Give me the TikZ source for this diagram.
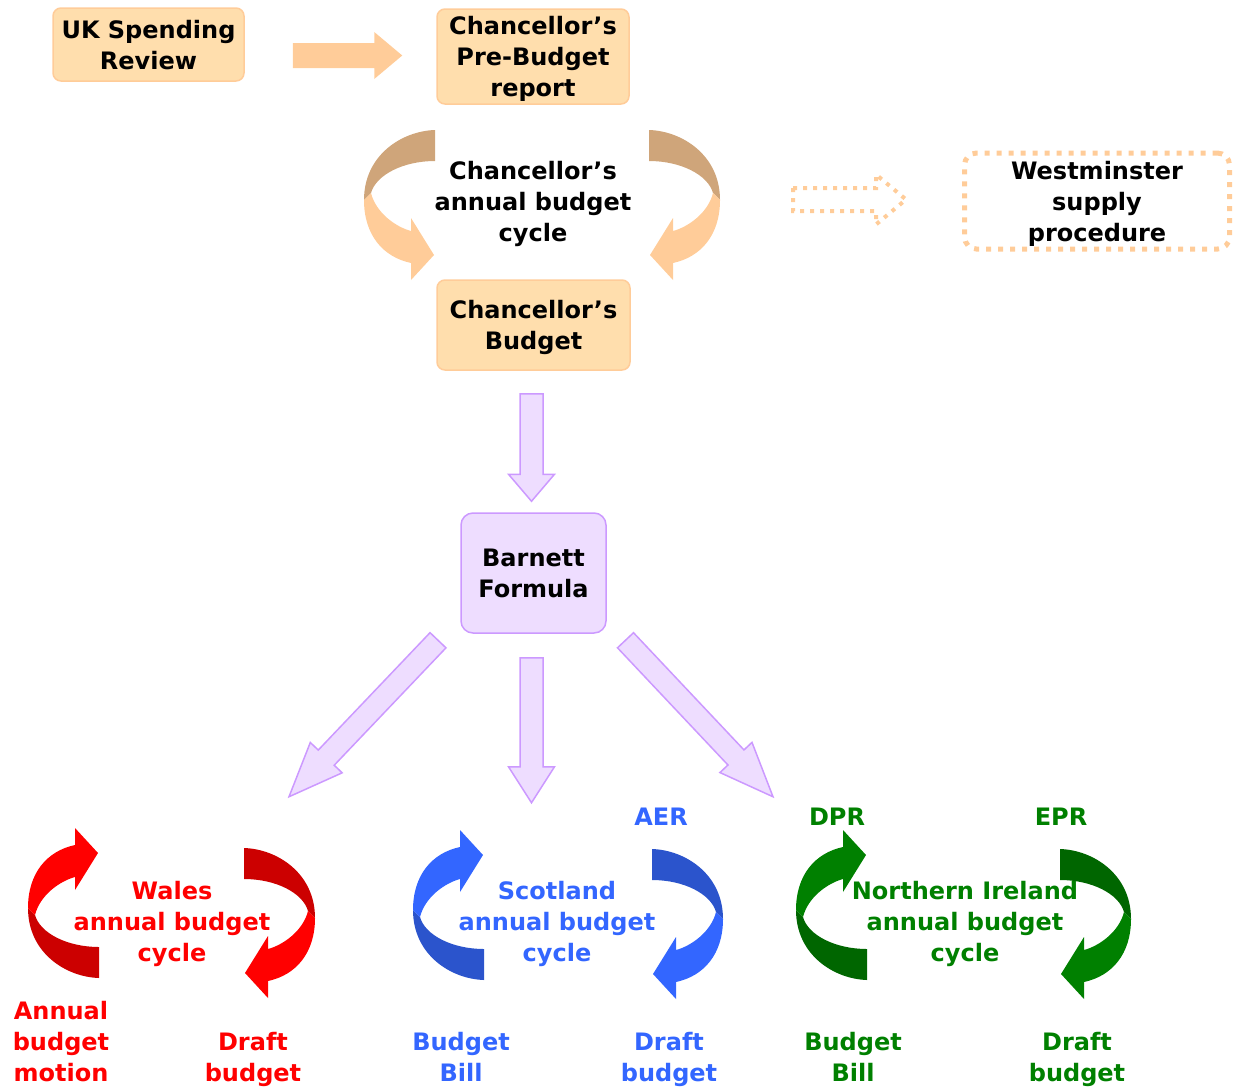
\documentclass[tikz,border=0pt]{standalone}
\usepackage{fontspec}
\setmainfont{DejaVu Sans}
\usetikzlibrary{calc}

\definecolor{peach}{HTML}{FFCC99}
\definecolor{peachfill}{HTML}{FFDEAD}
\definecolor{cyclebrown}{HTML}{CFA57A}
\definecolor{lilac}{HTML}{CC99FF}
\definecolor{lilacfill}{HTML}{EEDDFF}
\definecolor{walesred}{HTML}{FF0000}
\definecolor{walesdark}{HTML}{CC0000}
\definecolor{scotblue}{HTML}{3366FF}
\definecolor{scotdark}{HTML}{2B54CC}
\definecolor{nigreen}{HTML}{008000}
\definecolor{nidark}{HTML}{006600}

\tikzstyle{lbl}=[font=\fontsize{24}{31}\selectfont\bfseries,align=center,inner sep=0pt,text depth=0pt]
\tikzstyle{ukbox}=[lbl,draw=peach,fill=peachfill,line width=1.5pt,rounded corners=8pt]
\tikzstyle{barnettbox}=[lbl,draw=lilac,fill=lilacfill,line width=1.5pt,rounded corners=12pt]
\tikzstyle{dotbox}=[lbl,draw=peach,line width=5pt,dash pattern=on 5pt off 7pt,rounded corners=12pt]
\tikzstyle{fatarrow}=[fill=peach]
\tikzstyle{lilacarrow}=[draw=lilac,fill=lilacfill,line width=1.5pt,line join=miter]
\tikzstyle{dotarrow}=[draw=peach,line width=4pt,dash pattern=on 4pt off 6pt]

% block arrow: style, from, to, shaft half width, head half width, head length
\newcommand{\blockarrow}[6]{%
  \coordinate (ba-h) at ($(#3)!#6!(#2)$);
  \path[#1] ($(#2)!#4!90:(#3)$) -- ($(ba-h)!#4!90:(#3)$) -- ($(ba-h)!#5!90:(#3)$) -- (#3)
    -- ($(ba-h)!#5!-90:(#3)$) -- ($(ba-h)!#4!-90:(#3)$) -- ($(#2)!#4!-90:(#3)$) -- cycle;}

% curved ribbon arrow: front colour, back colour
\tikzset{
  pics/cyclearrow/.style 2 args={code={
    \fill[#2] (-144,-5) .. controls (-144,40) and (-106,64) .. (-73,65) -- (-73,34)
      .. controls (-105,34) and (-132,20) .. (-137,2) -- cycle;
    \fill[#1] (-144,-5) .. controls (-144,-40) and (-125,-62) .. (-97,-68) -- (-97,-85)
      -- (-74,-60) -- (-97,-23) -- (-97,-36) .. controls (-112,-32) and (-132,-18) .. (-137,2) -- cycle;
  }}
}

\begin{document}
\begin{tikzpicture}[x=1pt,y=-1pt]
\useasboundingbox (0,0) rectangle (1239,1090);
% Westminster level
\node[ukbox,minimum width=191pt,minimum height=73pt] (ukrev) at (148.5,44.5) {UK Spending\\Review};
\node[ukbox,minimum width=192pt,minimum height=95pt] (prebud) at (533,56.5) {Chancellor’s\\Pre-Budget\\report};
\node[lbl] (ccycle) at (533,201) {Chancellor’s\\annual budget\\cycle};
\node[ukbox,minimum width=193pt,minimum height=90pt] (cbud) at (533.5,325) {Chancellor’s\\Budget};
\node[dotbox,minimum width=265pt,minimum height=96pt] (westm) at (1097,201) {Westminster\\supply\\procedure};
\coordinate (ua) at ($(ukrev.east)+(48,11)$);
\coordinate (ub) at ($(prebud.west)+(-34,-1)$);
\blockarrow{fatarrow}{ua}{ub}{12.5pt}{23.5pt}{28pt}
\coordinate (wa) at ($(westm.west)+(-169,-1.5)$);
\coordinate (wb) at ($(westm.west)+(-56,-1.5)$);
\blockarrow{dotarrow}{wa}{wb}{11.5pt}{25pt}{30pt}
\pic[yscale=-1] at (508,195) {cyclearrow={peach}{cyclebrown}};
\pic[xscale=-1,yscale=-1] at (576,195) {cyclearrow={peach}{cyclebrown}};
% Barnett
\node[barnettbox,minimum width=145pt,minimum height=120pt] (barnett) at (533.5,573) {Barnett\\Formula};
\coordinate (ba1) at ($(cbud.south)+(-2,23)$);
\coordinate (bb1) at ($(barnett.north)+(-2,-11)$);
\blockarrow{lilacarrow}{ba1}{bb1}{11.5pt}{23pt}{27pt}
\coordinate (ba2) at ($(barnett.south)+(-2,24)$);
\coordinate (bb2) at ($(barnett.south)+(-2,169)$);
\blockarrow{lilacarrow}{ba2}{bb2}{11.5pt}{23pt}{36pt}
\coordinate (ba3) at ($(barnett.south)+(-95.5,6.5)$);
\coordinate (bb3) at ($(barnett.south)+(-244.5,163)$);
\blockarrow{lilacarrow}{ba3}{bb3}{11pt}{22pt}{54pt}
\coordinate (ba4) at ($(barnett.south)+(92,6.5)$);
\coordinate (bb4) at ($(barnett.south)+(239.5,163)$);
\blockarrow{lilacarrow}{ba4}{bb4}{11pt}{22pt}{54pt}
% Wales
\pic at (172,913) {cyclearrow={walesred}{walesdark}};
\pic[rotate=180] at (171,913) {cyclearrow={walesred}{walesdark}};
\node[lbl,text=walesred] (wales) at (172,921) {Wales\\annual budget\\cycle};
\node[lbl,text=walesred] (wmotion) at (61,1041) {Annual\\budget\\motion};
\node[lbl,text=walesred] (wdraft) at (253,1057) {Draft\\budget};
% Scotland
\pic at (557,915) {cyclearrow={scotblue}{scotdark}};
\pic[rotate=180] at (579,914) {cyclearrow={scotblue}{scotdark}};
\node[lbl,text=scotblue] (scot) at (557,921) {Scotland\\annual budget\\cycle};
\node[lbl,text=scotblue] (saer) at (661,817) {AER};
\node[lbl,text=scotblue] (sbill) at (461,1057) {Budget\\Bill};
\node[lbl,text=scotblue] (sdraft) at (669,1057) {Draft\\budget};
% Northern Ireland
\pic at (940,915) {cyclearrow={nigreen}{nidark}};
\pic[rotate=180] at (987,914) {cyclearrow={nigreen}{nidark}};
\node[lbl,text=nigreen] (nire) at (965,921) {Northern Ireland\\annual budget\\cycle};
\node[lbl,text=nigreen] (ndpr) at (837,817) {DPR};
\node[lbl,text=nigreen] (nepr) at (1061,817) {EPR};
\node[lbl,text=nigreen] (nbill) at (853,1057) {Budget\\Bill};
\node[lbl,text=nigreen] (ndraft) at (1077,1057) {Draft\\budget};
\end{tikzpicture}
\end{document}
